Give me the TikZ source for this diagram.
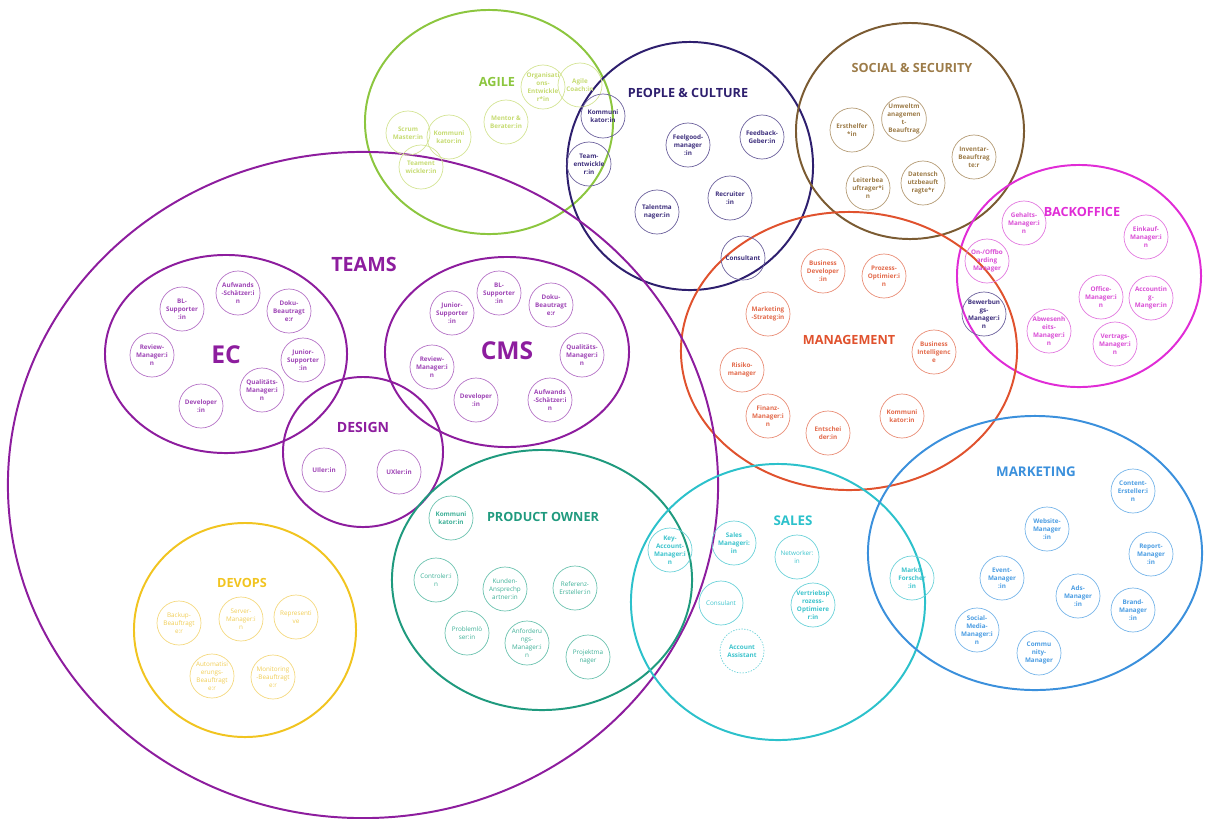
\documentclass[tikz,border=0pt]{standalone}
\usepackage{fontspec}
\setmainfont{Open Sans}
\usetikzlibrary{shapes.geometric}

\definecolor{agile}{HTML}{8CC63F}
\definecolor{agilerole}{HTML}{C6DB72}
\definecolor{people}{HTML}{2E1F6E}
\definecolor{peoplerole}{HTML}{3D2E7C}
\definecolor{social}{HTML}{7B5B32}
\definecolor{socialrole}{HTML}{9C7B48}
\definecolor{backoffice}{HTML}{E02CD6}
\definecolor{backofficerole}{HTML}{D94DD5}
\definecolor{management}{HTML}{E0522E}
\definecolor{managementrole}{HTML}{E2694A}
\definecolor{teams}{HTML}{8D1D9E}
\definecolor{teamsrole}{HTML}{9E45B5}
\definecolor{devops}{HTML}{F1C420}
\definecolor{devopsrole}{HTML}{F0CD55}
\definecolor{po}{HTML}{1F9A7E}
\definecolor{porole}{HTML}{3CAF96}
\definecolor{sales}{HTML}{2CC1CB}
\definecolor{salesrole}{HTML}{3CC3CC}
\definecolor{marketing}{HTML}{3B90DC}
\definecolor{marketingrole}{HTML}{4A9CE2}

\newcommand\rolefont{\fontsize{4.5}{5.6}\selectfont\bfseries}
\newcommand\titlefont{\fontsize{9}{10}\selectfont\bfseries}

\begin{document}
\begin{tikzpicture}[x=0.025cm,y=-0.025cm,
  group/.style={ellipse,draw=#1,line width=1.4pt,inner sep=0pt},
  title/.style={text=#1,font=\titlefont},
  role/.style={circle,draw=#1!75!white,text=#1,line width=0.5pt,minimum size=1.1cm,
    inner sep=0pt,align=center,font=\rolefont},
  plainrole/.style={role=#1,font=\rolefont\mdseries}]
\useasboundingbox (0,0) rectangle (1205,818);
% groups
\node[group=agile,minimum width=6.2cm,minimum height=5.6cm] (agile) at (489,122) {};
\node[group=people,minimum width=6.15cm,minimum height=6.2cm] (people) at (690,166) {};
\node[group=social,minimum width=5.7cm,minimum height=5.4cm] (social) at (910,131) {};
\node[group=backoffice,minimum width=6.1cm,minimum height=5.55cm] (backoffice) at (1079,276) {};
\node[group=management,minimum width=8.4cm,minimum height=6.95cm] (management) at (849,351) {};
\node[group=teams,minimum width=17.75cm,minimum height=16.65cm] (teams) at (363,485) {};
\node[group=teams,minimum width=6.05cm,minimum height=4.95cm] (ec) at (226,354) {};
\node[group=teams,minimum width=6.1cm,minimum height=4.75cm] (cms) at (507,352) {};
\node[group=teams,minimum width=4.0cm,minimum height=3.75cm] (design) at (363,452) {};
\node[group=devops,minimum width=5.55cm,minimum height=5.35cm] (devops) at (245,630) {};
\node[group=po,minimum width=7.5cm,minimum height=6.5cm] (po) at (542,580) {};
\node[group=sales,minimum width=7.35cm,minimum height=6.9cm] (sales) at (778,602) {};
\node[group=marketing,minimum width=8.35cm,minimum height=6.85cm] (marketing) at (1035,553) {};
% titles
\node[title=agile] (agile-t) at (497,82) {AGILE};
\node[title=people] (people-t) at (688,93) {PEOPLE \& CULTURE};
\node[title=socialrole] (social-t) at (912,68) {SOCIAL \& SECURITY};
\node[title=backoffice] (backoffice-t) at (1082,212) {BACKOFFICE};
\node[title=management] (management-t) at (849,340) {MANAGEMENT};
\node[title=teams,font=\fontsize{14}{15}\selectfont\bfseries] (teams-t) at (364,264) {TEAMS};
\node[title=teams,font=\fontsize{17.5}{18}\selectfont\bfseries] (ec-t) at (226,355) {EC};
\node[title=teams,font=\fontsize{17.5}{18}\selectfont\bfseries] (cms-t) at (507,351) {CMS};
\node[title=teams,font=\fontsize{10}{11}\selectfont\bfseries] (design-t) at (363,427) {DESIGN};
\node[title=devops] (devops-t) at (242,583) {DEVOPS};
\node[title=po] (po-t) at (543,517) {PRODUCT OWNER};
\node[title=sales,font=\fontsize{9.5}{10}\selectfont\bfseries] (sales-t) at (793,521) {SALES};
\node[title=marketing,font=\fontsize{9.5}{10}\selectfont\bfseries] (marketing-t) at (1036,472) {MARKETING};
% agile
\node[role=agilerole] (ag-scrum) at (408,133) {Scrum\\Master:in};
\node[role=agilerole] (ag-komm) at (449,137) {Kommuni\\kator:in};
\node[role=agilerole] (ag-team) at (421,167) {Teament\\wickler:in};
\node[role=agilerole] (ag-mentor) at (506,122) {Mentor \&\\Berater:in};
\node[role=agilerole] (ag-orga) at (543,87) {Organisati\\ons-\\Entwickle\\r*in};
\node[role=agilerole] (ag-coach) at (580,85) {Agile\\Coach:in};
% people & culture
\node[role=peoplerole] (pc-komm) at (603,116) {Kommuni\\kator:in};
\node[role=peoplerole] (pc-team) at (589,164) {Team-\\entwickle\\r:in};
\node[role=peoplerole] (pc-feel) at (688,145) {Feelgood-\\manager\\:in};
\node[role=peoplerole] (pc-feed) at (762,137) {Feedback-\\Geber:in};
\node[role=peoplerole] (pc-recr) at (730,198) {Recruiter\\:in};
\node[role=peoplerole] (pc-talent) at (657,212) {Talentma\\nager:in};
\node[role=peoplerole] (pc-cons) at (743,258) {Consultant};
% social & security
\node[role=socialrole] (ss-erst) at (852,130) {Ersthelfer\\*in};
\node[role=socialrole] (ss-umwelt) at (904,119) {Umweltm\\anagemen\\t-\\Beauftrag};
\node[role=socialrole] (ss-inv) at (974,157) {Inventar-\\Beauftrag\\te:r};
\node[role=socialrole] (ss-leiter) at (868,188) {Leiterbea\\uftrager*i\\n};
\node[role=socialrole] (ss-daten) at (923,183) {Datensch\\utzbeauft\\ragte*r};
% backoffice
\node[role=backofficerole] (bo-gehalt) at (1024,223) {Gehalts-\\Manager:i\\n};
\node[role=backofficerole] (bo-einkauf) at (1146,237) {Einkauf-\\Manager:i\\n};
\node[role=backofficerole] (bo-onoff) at (987,261) {On-/Offbo\\arding\\Manager};
\node[role=peoplerole] (bo-bewerb) at (984,314) {Bewerbun\\gs-\\Manager:i\\n};
\node[role=backofficerole] (bo-office) at (1101,297) {Office-\\Manager:i\\n};
\node[role=backofficerole] (bo-account) at (1151,298) {Accountin\\g-\\Manger:in};
\node[role=backofficerole] (bo-abwes) at (1049,331) {Abwesenh\\eits-\\Manager:i\\n};
\node[role=backofficerole] (bo-vertrag) at (1115,344) {Vertrags-\\Manager:i\\n};
% management
\node[role=managementrole] (mg-busdev) at (823,271) {Business\\Developer\\:in};
\node[role=managementrole] (mg-prozess) at (884,276) {Prozess-\\Optimier:i\\n};
\node[role=managementrole] (mg-mstrat) at (768,314) {Marketing\\-Strateg:in};
\node[role=managementrole] (mg-bi) at (934,352) {Business\\Intelligenc\\e};
\node[role=managementrole] (mg-risiko) at (742,370) {Risiko-\\manager};
\node[role=managementrole] (mg-finanz) at (768,416) {Finanz-\\Manager:i\\n};
\node[role=managementrole] (mg-entsch) at (828,433) {Entschei\\der:in};
\node[role=managementrole] (mg-komm) at (902,416) {Kommuni\\kator:in};
% ec
\node[role=teamsrole] (ec-aufw) at (238,293) {Aufwands\\-Schätzer:i\\n};
\node[role=teamsrole] (ec-bl) at (182,309) {BL-\\Supporter\\:in};
\node[role=teamsrole] (ec-doku) at (289,311) {Doku-\\Beautragt\\e:r};
\node[role=teamsrole] (ec-review) at (152,355) {Review-\\Manager:i\\n};
\node[role=teamsrole] (ec-junior) at (303,360) {Junior-\\Supporter\\:in};
\node[role=teamsrole] (ec-quali) at (262,390) {Qualitäts-\\Manager:i\\n};
\node[role=teamsrole] (ec-dev) at (201,406) {Developer\\:in};
% cms
\node[role=teamsrole] (cms-bl) at (499,293) {BL-\\Supporter\\:in};
\node[role=teamsrole] (cms-doku) at (551,305) {Doku-\\Beautragt\\e:r};
\node[role=teamsrole] (cms-junior) at (452,313) {Junior-\\Supporter\\:in};
\node[role=teamsrole] (cms-quali) at (582,355) {Qualitäts-\\Manager:i\\n};
\node[role=teamsrole] (cms-review) at (432,367) {Review-\\Manager:i\\n};
\node[role=teamsrole] (cms-dev) at (476,400) {Developer\\:in};
\node[role=teamsrole] (cms-aufw) at (550,400) {Aufwands\\-Schätzer:i\\n};
% design
\node[role=teamsrole] (ds-ui) at (324,470) {UIler:in};
\node[role=teamsrole] (ds-ux) at (399,472) {UXler:in};
% devops
\node[plainrole=devopsrole] (do-backup) at (179,623) {Backup-\\Beauftragt\\e:r};
\node[plainrole=devopsrole] (do-server) at (241,619) {Server-\\Manager:i\\n};
\node[plainrole=devopsrole] (do-repr) at (296,617) {Representi\\ve};
\node[plainrole=devopsrole] (do-auto) at (212,676) {Automatisi\\erungs-\\Beauftragt\\e:r};
\node[plainrole=devopsrole] (do-monit) at (273,677) {Monitoring\\-Beauftragt\\e:r};
% product owner
\node[role=porole] (po-komm) at (451,518) {Kommuni\\kator:in};
\node[plainrole=porole] (po-contr) at (436,580) {Controler:i\\n};
\node[plainrole=porole] (po-kunden) at (505,589) {Kunden-\\Ansprechp\\artner:in};
\node[plainrole=porole] (po-ref) at (575,588) {Referenz-\\Ersteller:in};
\node[plainrole=porole] (po-problem) at (467,633) {Problemlö\\ser:in};
\node[plainrole=porole] (po-anford) at (527,643) {Anforderu\\ngs-\\Manager:i\\n};
\node[plainrole=porole] (po-projekt) at (588,657) {Projektma\\nager};
% sales
\node[role=salesrole] (sa-key) at (670,550) {Key-\\Account-\\Manager:i\\n};
\node[role=salesrole] (sa-sales) at (734,543) {Sales\\Manageri:\\in};
\node[plainrole=salesrole] (sa-netw) at (797,557) {Networker:\\in};
\node[plainrole=salesrole] (sa-cons) at (721,603) {Consulant};
\node[role=salesrole] (sa-vertrieb) at (813,605) {Vertriebsp\\rozess-\\Optimiere\\r:in};
\node[role=salesrole,dash pattern=on 1pt off 1pt] (sa-assist) at (742,651) {Account\\Assistant};
% marketing
\node[role=marketingrole] (mk-content) at (1133,491) {Content-\\Ersteller:i\\n};
\node[role=marketingrole] (mk-website) at (1047,529) {Website-\\Manager\\:in};
\node[role=marketingrole] (mk-report) at (1151,554) {Report-\\Manager\\:in};
\node[role=salesrole] (mk-markt) at (912,578) {Markt-\\Forscher\\:in};
\node[role=marketingrole] (mk-event) at (1002,578) {Event-\\Manager\\:in};
\node[role=marketingrole] (mk-ads) at (1078,596) {Ads-\\Manager\\:in};
\node[role=marketingrole] (mk-brand) at (1133,610) {Brand-\\Manager\\:in};
\node[role=marketingrole] (mk-social) at (977,630) {Social-\\Media-\\Manager:i\\n};
\node[role=marketingrole] (mk-comm) at (1039,653) {Commu\\nity-\\Manager};
\end{tikzpicture}
\end{document}
